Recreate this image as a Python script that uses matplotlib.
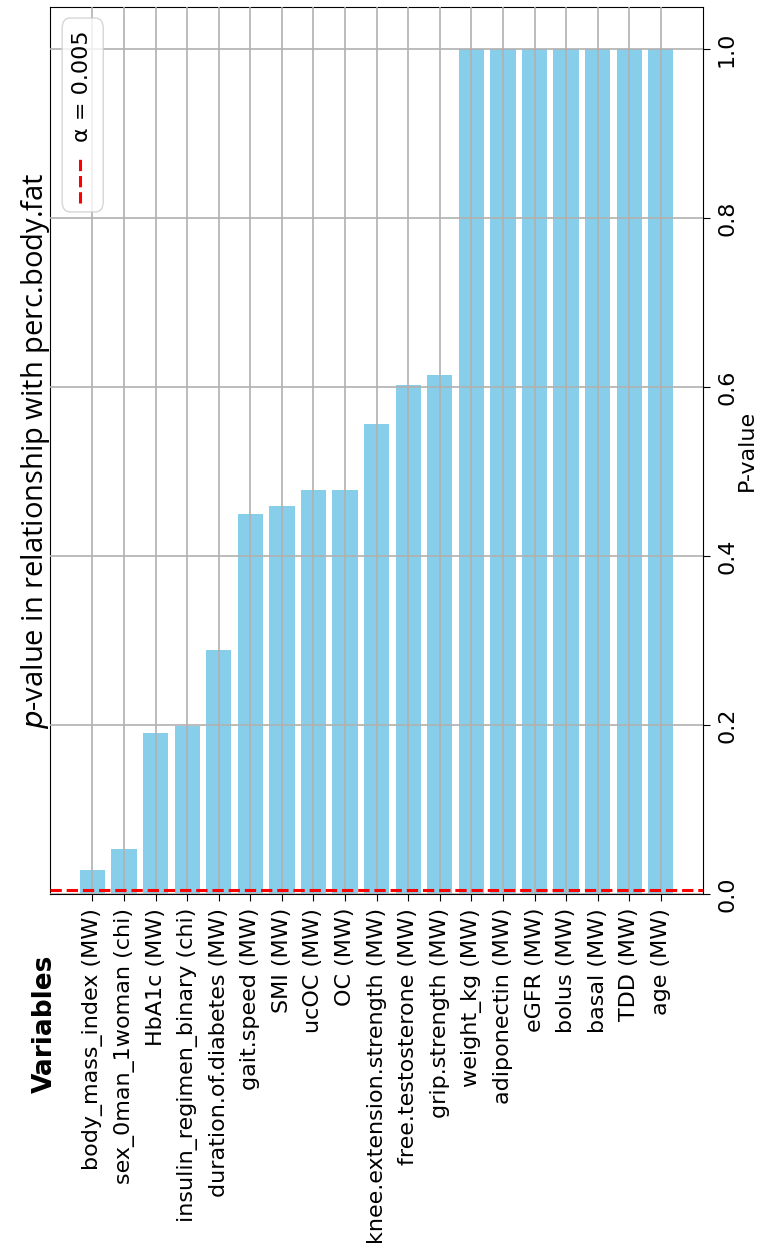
import matplotlib
matplotlib.use('Agg')
import matplotlib.pyplot as plt
from matplotlib.patches import FancyBboxPatch
from matplotlib.lines import Line2D

variables = ['body_mass_index (MW)', 'sex_0man_1woman (chi)', 'HbA1c (MW)',
             'insulin_regimen_binary (chi)', 'duration.of.diabetes (MW)',
             'gait.speed (MW)', 'SMI (MW)', 'ucOC (MW)', 'OC (MW)',
             'knee.extension.strength (MW)', 'free.testosterone (MW)',
             'grip.strength (MW)', 'weight_kg (MW)', 'adiponectin (MW)',
             'eGFR (MW)', 'bolus (MW)', 'basal (MW)', 'TDD (MW)', 'age (MW)']
p_values = [0.028, 0.053, 0.191, 0.199, 0.289, 0.450, 0.459, 0.478, 0.478,
            0.557, 0.603, 0.614, 1.0, 1.0, 1.0, 1.0, 1.0, 1.0, 1.0]
alpha = 0.005
p_ticks = [0.0, 0.2, 0.4, 0.6, 0.8, 1.0]

fig = plt.figure(figsize=(7.71, 12.55), dpi=100)
ax = fig.add_axes([0.065, 0.2876, 0.847, 0.7068])

ax.bar(range(len(variables)), p_values, width=0.8, color='skyblue', zorder=1)
ax.axhline(alpha, color='red', linestyle='--', linewidth=2.2, zorder=3)
ax.grid(True, color='#b0b0b0', linewidth=1.2, zorder=2)
ax.set_axisbelow(False)

ax.set_ylim(0, 1.05)
ax.set_xticks(range(len(variables)))
ax.set_xticklabels(variables, rotation=90, fontsize=16)
ax.tick_params(axis='x', length=5, pad=5)
ax.yaxis.tick_right()
ax.yaxis.set_label_position('right')
ax.set_yticks(p_ticks)
ax.set_yticklabels([f'{t:.1f}' for t in p_ticks], rotation=90, va='center', fontsize=16)
ax.tick_params(axis='y', length=5, pad=5)
ax.set_ylabel('P-value', rotation=90, fontsize=16, labelpad=0)

# title and variable heading, turned sideways with the rest
fig.text(0.046, 0.641, r'$p$-value in relationship with perc.body.fat', rotation=90,
         ha='center', va='center', fontsize=21, family='Open Sans')
fig.text(0.058, 0.184, 'Variables', rotation=90, ha='center', va='center',
         fontsize=19, fontweight='bold')

# legend box for the alpha line
box = FancyBboxPatch((0.0184, 0.769), 0.063, 0.2186, transform=ax.transAxes,
                     boxstyle='round,pad=0,rounding_size=0.012',
                     facecolor='white', edgecolor='#cccccc', alpha=0.8, zorder=4)
ax.add_patch(box)
ax.add_line(Line2D([0.046, 0.046], [0.779, 0.830], transform=ax.transAxes,
                   color='red', linestyle='--', linewidth=2.2, zorder=5))
ax.text(0.049, 0.848, 'α = 0.005', transform=ax.transAxes, rotation=90,
        ha='center', va='bottom', fontsize=16, zorder=5)

fig.savefig('out.png', dpi=100)
